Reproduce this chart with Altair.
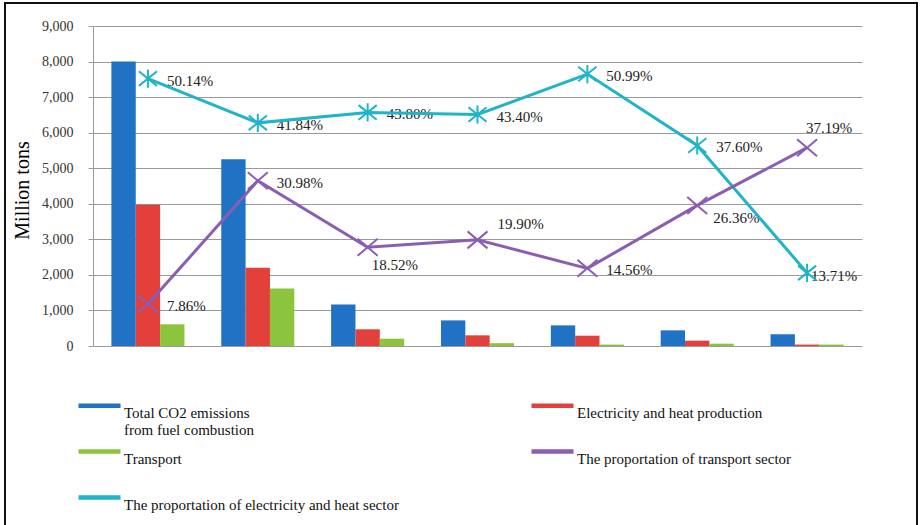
import altair as alt
import pandas as pd

SERIF = "Liberation Serif"

countries = ["United States", "China", "Japan", "Germany", "France", "United Kingdom", "Korea"]

# CO2 emissions, million tons
total_co2 = [8000, 5250, 1170, 720, 580, 440, 330]
electricity_heat = [3970, 2200, 470, 300, 290, 150, 40]
transport = [610, 1620, 205, 80, 40, 65, 40]

# sector shares, percent
share_electricity = [50.14, 41.84, 43.80, 43.40, 50.99, 37.60, 13.71]
share_transport = [7.86, 30.98, 18.52, 19.90, 14.56, 26.36, 37.19]

# where each percentage label sits next to its marker
place_electricity = ["right", "right", "right", "right", "right", "right", "on"]
place_transport = ["right", "right", "below", "above-right", "right", "below-right", "above"]

bar_series = ["Total CO2 emissions from fuel combustion", "Electricity and heat production", "Transport"]
line_series = ["The proportation of transport sector", "The proportation of electricity and heat sector"]
legend_order = [bar_series[0], bar_series[1], bar_series[2], line_series[0], line_series[1]]

BLUE, RED, GREEN = "#1f72c4", "#e3403c", "#8cc43e"
PURPLE, CYAN = "#8b5db3", "#20b4ca"
legend_colors = [BLUE, RED, GREEN, PURPLE, CYAN]

bars_df = pd.DataFrame(
    [{"country": c, "series": s, "value": v}
     for s, vals in zip(bar_series, [total_co2, electricity_heat, transport])
     for c, v in zip(countries, vals)]
)

share_df = pd.DataFrame(
    [{"country": c, "series": s, "share": v / 100, "place": p}
     for s, vals, places in [(line_series[1], share_electricity, place_electricity),
                             (line_series[0], share_transport, place_transport)]
     for c, v, p in zip(countries, vals, places)]
)

GRID = "#9a9a9a"
x_scale = alt.Scale(domain=countries, paddingInner=0.335, paddingOuter=0.1675)

x_axis = alt.Axis(
    title=None, labelAngle=0, tickBand="extent", tickSize=5, labelPadding=5,
    domainColor=GRID, tickColor=GRID, labelFont=SERIF, labelFontSize=14, labelColor="#333",
)

# wide flat swatch: a small nominal symbol size keeps legend rows compact
SWATCH = "M-3,-0.33H3V0.33H-3Z"

bars = alt.Chart(bars_df).mark_bar().encode(
    x=alt.X("country:N", scale=x_scale, sort=countries, axis=x_axis),
    xOffset=alt.XOffset("series:N", sort=bar_series,
                        scale=alt.Scale(domain=bar_series, paddingInner=0, paddingOuter=0)),
    y=alt.Y(
        "value:Q",
        scale=alt.Scale(domain=[0, 9000], nice=False),
        axis=alt.Axis(
            values=list(range(0, 9001, 1000)), format=",d", grid=True, gridColor=GRID,
            domainColor=GRID, tickColor=GRID, tickSize=5, labelPadding=15,
            labelFont=SERIF, labelFontSize=14, labelColor="#333",
            title="Million tons", titleFont=SERIF, titleFontSize=20, titleFontWeight="normal",
            titleColor="#000", titleX=-71, titleY=164, titleAngle=270,
            titleAlign="center", titleBaseline="middle",
        ),
    ),
    color=alt.Color(
        "series:N",
        scale=alt.Scale(domain=legend_order, range=legend_colors),
        legend=alt.Legend(
            title=None, orient="none", legendX=-1, legendY=372, columns=2,
            direction="horizontal", columnPadding=132, rowPadding=6,
            symbolType=SWATCH, symbolSize=196, symbolStrokeWidth=0,
            labelFont=SERIF, labelFontSize=15, labelColor="#111", labelBaseline="top",
            labelLimit=500, labelOffset=17,
            labelExpr=(
                "datum.label == 'Total CO2 emissions from fuel combustion' ? "
                "['Total CO2 emissions', 'from fuel combustion'] : [datum.label, ' ']"
            ),
        ),
    ),
)

y_share = alt.Scale(domain=[0, 0.6], nice=False)
x_plain = alt.X("country:N", scale=x_scale, sort=countries, axis=None)

share_base = alt.Chart(share_df)

offsets = {
    "right": (19, 2),
    "on": (4, 3),
    "below": (4, 18),
    "below-right": (16, 13),
    "above-right": (20, -16),
    "above": (-1, -20),
}

label_layers = [
    share_base.transform_filter(alt.datum.place == name)
    .mark_text(align="left", baseline="middle", dx=dx, dy=dy, font=SERIF, fontSize=15, color="#222")
    .encode(x=x_plain, y=alt.Y("share:Q", scale=y_share, axis=None),
            text=alt.Text("share:Q", format=".2%"))
    for name, (dx, dy) in offsets.items()
]

ASTERISK = "M-1,-0.8L1,0.8M-1,0.8L1,-0.8M0,-1L0,1"
CROSS_X = "M-1,-0.85L1,0.85M-1,0.85L1,-0.85"

series_style = [
    (line_series[1], CYAN, ASTERISK, 330),
    (line_series[0], PURPLE, CROSS_X, 400),
]

line_layers = []
for name, col, shape, size in series_style:
    sub = share_base.transform_filter(alt.datum.series == name)
    line_layers.append(
        sub.mark_line(color=col, strokeWidth=3).encode(
            x=x_plain,
            y=alt.Y("share:Q", scale=y_share, axis=None),
        )
    )
    line_layers.append(
        sub.mark_point(filled=False, color=col, strokeWidth=2, opacity=1).encode(
            x=x_plain,
            y=alt.Y("share:Q", scale=y_share, axis=None),
            shape=alt.value(shape),
            size=alt.value(size),
        )
    )

right_axis = share_base.mark_line(opacity=0).encode(
    x=x_plain,
    y=alt.Y(
        "share:Q", scale=y_share,
        axis=alt.Axis(
            orient="right", values=[0, 0.1, 0.2, 0.3, 0.4, 0.5, 0.6], format=".0%",
            grid=False, domainColor=GRID, tickColor=GRID, tickSize=5, labelPadding=8,
            labelFont=SERIF, labelFontSize=14, labelColor="#333", title=None,
        ),
    ),
    detail="series:N",
)

shares = alt.layer(right_axis, *label_layers, *line_layers)

frame = alt.Chart(pd.DataFrame({"k": [0]})).mark_rect(
    fillOpacity=0, stroke="#111", strokeWidth=2
).encode(
    x=alt.value(-88), x2=alt.value(824), y=alt.value(-23), y2=alt.value(530)
)

chart = (
    alt.layer(bars, shares, frame)
    .resolve_scale(y="independent")
    .properties(
        width=769, height=320, autosize="none",
        padding={"left": 93, "top": 26, "right": 61, "bottom": 179},
        background="white",
    )
    .configure_view(stroke=None)
)

chart.save("out.html", embed_options={"renderer": "svg", "actions": False})
